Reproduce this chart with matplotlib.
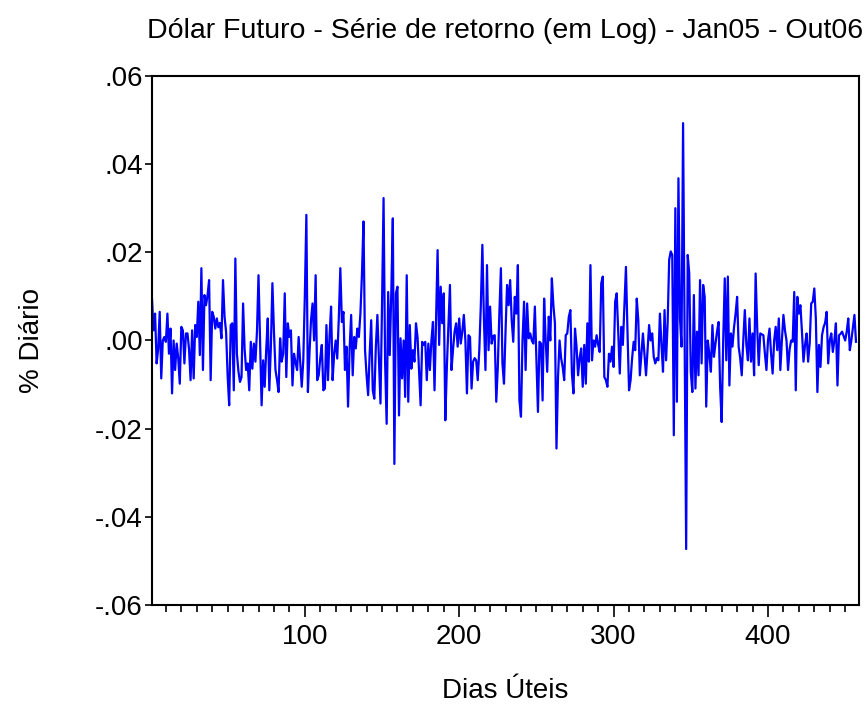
import matplotlib
matplotlib.use("Agg")
import matplotlib.pyplot as plt
from matplotlib.ticker import MultipleLocator, FixedLocator, FixedFormatter
import numpy as np

plt.rcParams['font.family'] = ['Liberation Sans', 'DejaVu Sans']

title = "Dólar Futuro - Série de retorno (em Log) - Jan05 - Out06"
xlabel = "Dias Úteis"
ylabel = "% Diário"

# daily log returns, in thousandths (value * 1000)
ret_001_045 = [9.5, 2.3, 6.1, -5.2, -2, 6.5, -8.6, 0, 0.8, -0.3, 6.1, -3, 2.7, -12, 0,
               -6.7, -0.7, -4, -9.8, 3.1, 2.3, -5.2, 1.6, 1.6, -2, -9, 2.3, -8.6, 3.5, 0.8,
               8.8, -3.3, 16.4, -6.7, 10.3, 8, 10.3, 13.7, -9, 6.5, 5.4, 2.7, 5, 3, 4]
ret_046_090 = [0.5, 13.7, 5.4, 2, -8, -14.7, 3.5, 3.9, -11.3, 18.6, -3, -7, -9.4, -8.3, 8.4,
               -2, -6.7, -5.2, -11.3, -0.3, -6.4, -0.7, -4.8, 2, 14.8, 0, -14.7, -4.5, -10.5, -2,
               5, -11.3, -1.4, 13, 2, -6.7, -9, -11.7, 0.5, -4.8, -3, 10.7, -8.3, 3.9, 0.8]
ret_091_135 = [2.3, -10.2, -3, -5, -6.7, 0.8, -5, -10.5, -4.5, 10, 28.5, -11.7, -3, 4.6, 8.4,
               0, 14.8, -9, -7.9, -4, -1, -11.3, -10.9, 3.5, -9, 1, 7.7, -9, -3, 0,
               -4.1, 5, 16.4, 4.2, 6.5, -6.7, -1.4, -15, -2, 5.8, -7.9, 0.8, -1.8, 2.7, 0.8]
ret_136_180 = [6.1, 15, 27, -2.2, -7.9, -12.4, -3, 4.6, -11.3, -13.2, -1.4, 5.8, -4, -14.3, 8,
               32.3, -5, -18.9, 11, -3.3, 10.7, 27.7, -28, 10.7, 12.2, -17, 0.5, -8.6, 0, -12.8,
               14.8, -13.9, 3.5, -6.4, -2.2, -4.8, 3.9, 0.8, -7, -14.7, -0.3, -1, -0.3, -9, -0.7]
ret_181_225 = [-6.7, 0, 4.2, -11.3, 5, 20.5, -1, 12.2, 3.9, 10.7, -18.1, -6, 3, 12.6, -6.7,
               -2, 2, 3.9, -1.4, 5, -0.7, 2, 5.8, 0, -12, 1.2, 0.8, -10.9, -4.8, -4,
               -4.5, -9, -2.2, 8, 21.7, 5, -6.7, 17.1, -2.2, 7.7, -0.7, 1, 1.2, -13.9, -6]
ret_226_270 = [6.1, 16.4, -5.2, -9.8, 2, 12.6, 8, 13.7, 4.6, -0.3, 9.9, 6.1, 17.1, -13.6, -17.3,
               0, 8.8, -6.7, 8.4, 0.5, 1.6, 0, -0.7, 7.7, -4, -16.2, -0.3, -0.7, -13.6, 9.5,
               0, -7.1, 5.4, 0, 14.1, 8, 3.9, -24.5, -8.3, 0, -4, -6, -9, 1.2, 1.6]
ret_271_315 = [5.4, 6.9, -7.5, -12, 2.7, -1.4, -7.9, -4, -1.8, -10.5, -1, -9.8, 3.9, -4.8, 17.1,
               -4.5, 0, -1.4, 1.2, -1, -2.6, 13, 14.5, -8.3, -9, -10.5, -3, -4.8, -1.4, -6,
               8.8, 10.7, 2, -7.5, 3.1, -1, 8, 16.7, 2, -11.3, -9, -4, -0.3, -2.2, 9.5]
ret_316_360 = [4.6, -7.9, -3, 1.6, -3, -7.9, -2, 3.5, 0, 1.6, -3.7, -5.2, -4, -4.5, 6.1,
               -1, -7.1, 6.9, -4.5, 3.9, 18.3, 20.2, 19.4, -21.5, 30, -13.9, 36.8, 5, -1.4, 49.3,
               0, -47.3, 19.4, 15.2, -7.1, -11.7, 10.3, -10.9, 2, -7.9, 13.7, -5.2, 12.6, 9.9, -15]
ret_361_405 = [0, -3, -7.1, 3.5, -3.7, -0.7, 2, 4.2, -10.5, -18.5, 0, 14.1, -4.5, 14.5, -10.2,
               1.6, -1.4, 3, 6, 9.9, -1.4, -4, -7.9, 0, 6.9, -1, -4.5, 5, -4.8, 1.6,
               -7.9, 15.2, 3, -5.6, 1.6, 1.4, 1.2, -3, -6.7, 0, 2.7, -3, -7.5, 0, 3.1]
ret_406_457 = [-2.2, 5, -6.7, 0, 5.8, 2.3, 0, -6.7, -2, 0, -0.3, 11, -11.3, 9.9, 6.1,
               8, 2, -4.8, -1, 1.6, -4.8, -0.7, 8.4, 8.8, 11.8, 5, -11.7, -1, -6, 1.2,
               3, 4, 6.5, -5.2, 0, 1.6, -2.6, 0, 3.9, -10.2, 1.2, 1.5, 2, 1, 0,
               2, 5, -2.2, 0, 3, 5.8, -0.3]

ytick_values = [-0.06, -0.04, -0.02, 0.0, 0.02, 0.04, 0.06]
ytick_labels = ["-.06", "-.04", "-.02", ".00", ".02", ".04", ".06"]
xtick_values = [100, 200, 300, 400]

returns = np.array(ret_001_045 + ret_046_090 + ret_091_135 + ret_136_180 + ret_181_225 +
                   ret_226_270 + ret_271_315 + ret_316_360 + ret_361_405 + ret_406_457) / 1000.0
days = np.arange(1, len(returns) + 1)

fig = plt.figure(figsize=(8.66, 7.27), dpi=100)
ax = fig.add_axes([0.1755, 0.1678, 0.8165, 0.7277])
ax.plot(days, returns, color=(0, 0, 1), lw=1.6)

ax.set_xlim(1, 459)
ax.set_ylim(-0.06, 0.06)
ax.yaxis.set_major_locator(FixedLocator(ytick_values))
ax.yaxis.set_major_formatter(FixedFormatter(ytick_labels))
ax.xaxis.set_major_locator(FixedLocator(xtick_values))
ax.xaxis.set_minor_locator(MultipleLocator(10))

ax.tick_params(axis='both', which='major', direction='out', labelsize=20, width=1.2, color='black')
ax.tick_params(axis='x', which='major', length=8.5, pad=5)
ax.tick_params(axis='x', which='minor', length=5, width=1.2, direction='out')
ax.tick_params(axis='y', which='major', length=5, pad=1.5)
for s in ax.spines.values():
    s.set_linewidth(1.5)
    s.set_color('black')

ax.set_xlabel(xlabel, fontsize=20, labelpad=20)
ax.set_ylabel(ylabel, fontsize=20, labelpad=36)
ax.set_title(title, fontsize=20.5, pad=27)

fig.savefig("out.png", dpi=100)
